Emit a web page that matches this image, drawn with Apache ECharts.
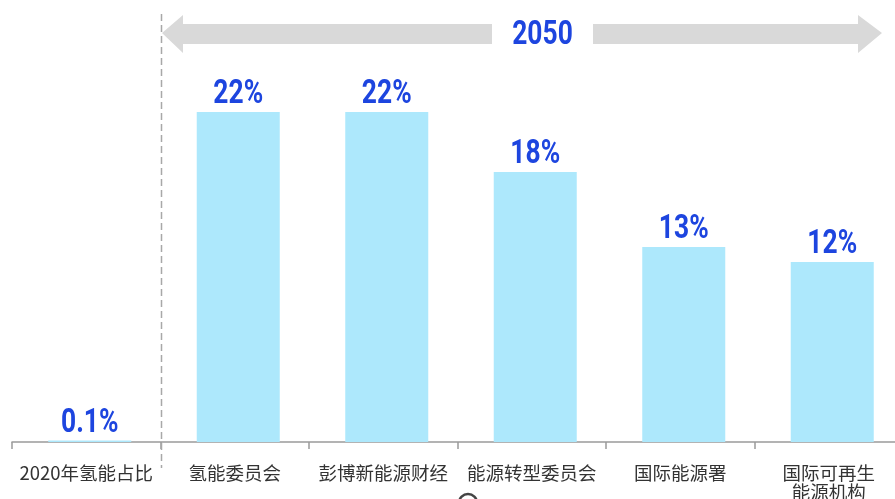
<!DOCTYPE html>
<html><head><meta charset="utf-8">
<script src="https://cdn.jsdelivr.net/npm/echarts@6/dist/echarts.min.js"></script>
<style>html,body{margin:0;padding:0;background:#fff}#c{width:895px;height:499px}</style>
</head><body><div id="c"></div>
<script>
var categories = ['2020年氢能占比', '氢能委员会', '彭博新能源财经', '能源转型委员会', '国际能源署', '国际可再生\n能源机构'];
var shares = [0.1, 22, 22, 18, 13, 12];
var shareLabels = ['0.1%', '22%', '22%', '18%', '13%', '12%'];
var yearLabel = '2050';

var chart = echarts.init(document.getElementById('c'), null, {renderer: 'canvas'});
var numFont = 'bold 33px Roboto, "DejaVu Sans", sans-serif';
var numColor = '#1d45df';
var numScaleX = 0.8;
var option = {
  animation: false,
  grid: [
    {left: 15.5, top: 67, width: 891, height: 375, outerBoundsMode: 'none', containLabel: false},
    {left: 12, top: 67, width: 891, height: 375, outerBoundsMode: 'none', containLabel: false}
  ],
  xAxis: [
    {type: 'category', gridIndex: 0, data: categories, show: false},
    {type: 'category', gridIndex: 1, data: categories,
     axisLine: {lineStyle: {color: '#9a9a9a', width: 1.5}},
     axisTick: {show: true, length: 7, lineStyle: {color: '#9a9a9a', width: 1.5}},
     axisLabel: {color: '#333', fontSize: 18.5, margin: 22, lineHeight: 18.5, interval: 0,
       fontFamily: '"Noto Sans CJK SC", sans-serif'}}
  ],
  yAxis: [
    {type: 'value', gridIndex: 0, min: 0, max: 25, show: false},
    {type: 'value', gridIndex: 1, min: 0, max: 25, show: false}
  ],
  series: [{
    type: 'bar', xAxisIndex: 0, yAxisIndex: 0, data: shares, barWidth: 83,
    itemStyle: {color: '#ade8fc'}
  }, {
    type: 'custom', xAxisIndex: 0, yAxisIndex: 0, data: shares.map(function (v, i) { return [i, v]; }),
    renderItem: function (params, api) {
      var p = api.coord([api.value(0), api.value(1)]);
      return {type: 'text', x: p[0], y: p[1] - 17, scaleX: numScaleX,
        style: {text: shareLabels[params.dataIndex], font: numFont, fill: numColor,
          align: 'center', verticalAlign: 'middle'}};
    }
  }]
};
chart.setOption(option);

var b0 = chart.convertToPixel({xAxisIndex: 1}, categories[0]);
var b1 = chart.convertToPixel({xAxisIndex: 1}, categories[1]);
var sepX = Math.round((b0 + b1) / 2) + 0.5;
var ay = 33;
chart.setOption({
  graphic: [
    {type: 'line', shape: {x1: sepX, y1: 14, x2: sepX, y2: 468},
     style: {stroke: '#a8a8a8', lineWidth: 1.5, lineDash: [7, 4]}, z: 10},
    {type: 'polygon', shape: {points: [[162, ay], [183, 15], [183, 24], [492, 24], [492, 44], [183, 44], [183, 53]]},
     style: {fill: '#d9d9d9'}},
    {type: 'polygon', shape: {points: [[882, ay], [858, 15], [858, 24], [593, 24], [593, 44], [858, 44], [858, 53]]},
     style: {fill: '#d9d9d9'}},
    {type: 'text', x: 542.5, y: ay + 3, scaleX: numScaleX, style: {text: yearLabel, fill: numColor, font: numFont,
      align: 'center', verticalAlign: 'middle'}},
    {type: 'circle', shape: {cx: 468, cy: 503, r: 9}, style: {fill: 'none', stroke: '#444', lineWidth: 2.5}}
  ]
});
</script></body></html>
